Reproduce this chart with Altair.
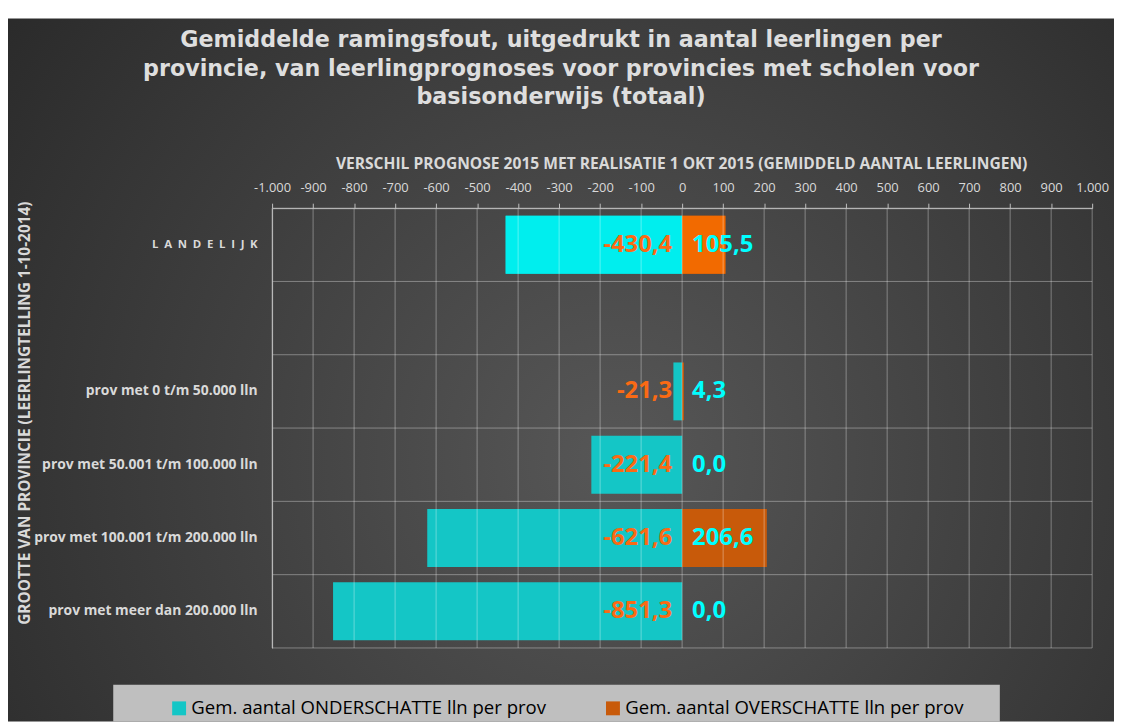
import altair as alt
import pandas as pd

# ---------------- data ----------------
EN = "\u2002"
categories = [
    EN.join("LANDELIJK"),
    " ",
    "prov met 0 t/m 50.000 lln",
    "prov met 50.001 t/m 100.000 lln",
    "prov met 100.001 t/m 200.000 lln",
    "prov met meer dan 200.000 lln",
]
onderschat = [-430.4, None, -21.3, -221.4, -621.6, -851.3]
overschat = [105.5, None, 4.3, 0.0, 206.6, 0.0]
series_names = [
    "Gem. aantal ONDERSCHATTE lln per prov",
    "Gem. aantal OVERSCHATTE lln per prov",
]
x_ticks = list(range(-1000, 1001, 100))
title_lines = [
    "Gemiddelde ramingsfout, uitgedrukt in aantal leerlingen per",
    "provincie, van leerlingprognoses voor provincies met scholen voor",
    "basisonderwijs (totaal)",
]
x_title = "VERSCHIL PROGNOSE 2015 MET REALISATIE 1 OKT 2015 (GEMIDDELD AANTAL LEERLINGEN)"
y_title = "GROOTTE VAN PROVINCIE (LEERLINGTELLING 1-10-2014)"


def nl(v):
    return f"{v:.1f}".replace(".", ",")


rows = []
for c, u, o in zip(categories, onderschat, overschat):
    if u is not None:
        rows.append({"cat": c, "serie": series_names[0], "value": u, "label": nl(u)})
    if o is not None:
        rows.append({"cat": c, "serie": series_names[1], "value": o, "label": nl(o)})
df = pd.DataFrame(rows)
cat_df = pd.DataFrame({"cat": categories})
tick_df = pd.DataFrame({"t": x_ticks})
one = pd.DataFrame({"a": [0]})

# ---------------- layout ----------------
W, H = 826, 443
FONT = "Open Sans"
LIGHT = "#d9d9d9"

x_scale = alt.Scale(domain=[-1000, 1000], nice=False, zero=False)
y_scale = alt.Scale(domain=categories, paddingInner=0, paddingOuter=0)

x_axis = alt.Axis(
    orient="top", values=x_ticks, grid=False, title=None, zindex=2,
    labelExpr="abs(datum.value) >= 1000 ? (datum.value < 0 ? '-1.000' : '1.000') : toString(datum.value)",
    domainColor="#bfbfbf", tickColor="#bfbfbf", tickSize=5, labelPadding=9,
    labelColor=LIGHT, labelFont=FONT, labelFontSize=13, labelFlush=False,
)
y_axis = alt.Axis(
    orient="left", grid=False, title=None, ticks=False, zindex=2,
    domainColor="#bfbfbf", labelPadding=15, labelLimit=400,
    labelColor=LIGHT, labelFont=FONT, labelFontWeight="bold",
    labelFontSize={"condition": {"test": "indexof(datum.label, 'prov') < 0", "value": 11.5}, "value": 14},
)

X = lambda f: alt.X(f, scale=x_scale, axis=x_axis)
Y = lambda f, **k: alt.Y(f, scale=y_scale, axis=y_axis, **k)

bg = alt.Chart(one).mark_rect(
    color=alt.RadialGradient(
        gradient="radial",
        stops=[alt.GradientStop(color="#575757", offset=0),
               alt.GradientStop(color="#262626", offset=1)],
        x1=0.55, y1=0.58, r1=0, x2=0.55, y2=0.58, r2=0.75,
    )
).encode(x=alt.value(-266), x2=alt.value(848), y=alt.value(-191), y2=alt.value(517))

legend_box = alt.Chart(one).mark_rect(color="#bfbfbf").encode(
    x=alt.value(-160), x2=alt.value(733), y=alt.value(480), y2=alt.value(517)
)

bars = alt.Chart(df).mark_bar(height={"band": 0.79}).encode(
    x=X("value:Q"),
    y=Y("cat:N"),
    color=alt.Color(
        "serie:N",
        scale=alt.Scale(domain=series_names, range=["#14c6c6", "#c85a0a"]),
        legend=alt.Legend(
            orient="none", legendX=-103, legendY=494, direction="horizontal",
            title=None, symbolType="square", symbolSize=196, symbolStrokeWidth=0,
            labelFont=FONT, labelFontSize=18.7, labelColor="#000000", labelLimit=500,
            labelOffset=3, columnPadding=57, padding=0,
        ),
    ),
)

land = alt.Chart(df).transform_filter(
    alt.datum.cat == categories[0]
).transform_calculate(
    col="datum.value < 0 ? '#00eeee' : '#f26a00'"
).mark_bar(height={"band": 0.79}).encode(
    x=X("value:Q"), y=Y("cat:N"), color=alt.Color("col:N", scale=None)
)

vgrid = alt.Chart(tick_df).mark_rule(color="#ffffff", opacity=0.35, strokeWidth=1).encode(x=X("t:Q"))
hgrid = alt.Chart(cat_df).mark_rule(color="#ffffff", opacity=0.35, strokeWidth=1).encode(
    y=Y("cat:N", bandPosition=0)
)
hgrid_end = alt.Chart(cat_df).transform_filter(
    alt.datum.cat == categories[-1]
).mark_rule(color="#ffffff", opacity=0.35, strokeWidth=1).encode(y=Y("cat:N", bandPosition=1))

neg_lbl = alt.Chart(df).transform_filter(alt.datum.value < 0).mark_text(
    align="right", baseline="middle", dx=-10, font=FONT, fontWeight="bold",
    fontSize=24, color="#fa6a14",
).encode(x=alt.datum(0, scale=x_scale), y=Y("cat:N"), text="label:N")

pos_lbl = alt.Chart(df).transform_filter(alt.datum.value >= 0).mark_text(
    align="left", baseline="middle", dx=10, font=FONT, fontWeight="bold",
    fontSize=24, color="#00ffff",
).encode(x=alt.datum(0, scale=x_scale), y=Y("cat:N"), text="label:N")

title = alt.Chart(one).mark_text(
    text=title_lines, align="center", baseline="alphabetic", lineHeight=28.5,
    font="DejaVu Sans", fontWeight="bold", fontSize=22.4, color="#dedede",
).encode(x=alt.value(291), y=alt.value(-162))

xt = alt.Chart(one).mark_text(
    text=x_title, align="center", baseline="middle", font=FONT, fontWeight="bold",
    fontSize=15.7, color=LIGHT,
).encode(x=alt.value(412.5), y=alt.value(-44))

yt = alt.Chart(one).mark_text(
    text=y_title, align="center", baseline="middle", angle=270, font=FONT,
    fontWeight="bold", fontSize=15.5, color=LIGHT,
).encode(x=alt.value(-249), y=alt.value(206.5))

chart = alt.layer(
    bg, legend_box, bars, land, vgrid, hgrid, hgrid_end, neg_lbl, pos_lbl,
    title, xt, yt,
).properties(
    width=W, height=H,
    padding={"left": 266, "top": 199, "right": 22, "bottom": 74},
    autosize=alt.AutoSizeParams(type="none"),
    background="#ffffff",
).configure_view(stroke=None).configure(font=FONT)

chart.save("out.html", embed_options={"renderer": "svg", "actions": False})
